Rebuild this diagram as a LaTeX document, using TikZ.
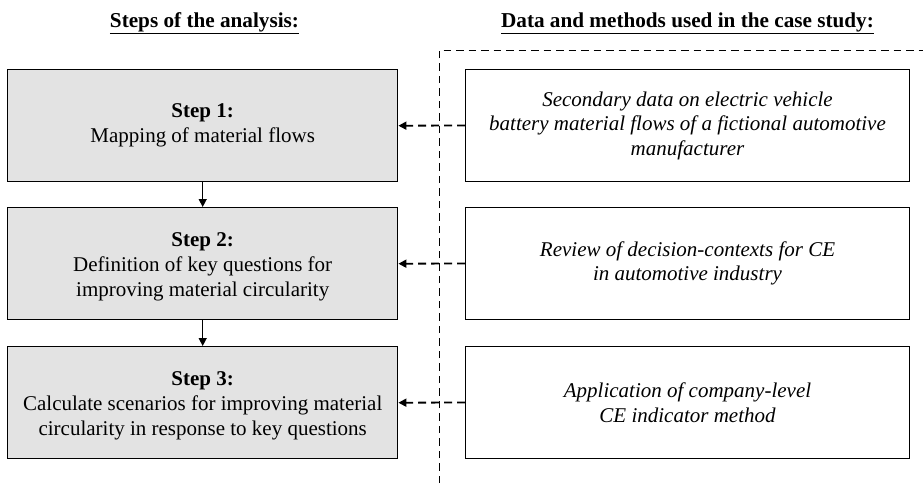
\documentclass[tikz,border=0pt]{standalone}
\usepackage{fontspec}
\setmainfont{Liberation Serif}
\usetikzlibrary{arrows.meta}
\begin{document}
\begin{tikzpicture}[x=1pt,y=-1pt,
  stepbox/.style={draw=black, line width=1.4pt, fill=black!11, minimum width=390pt, minimum height=112pt, align=center, font=\fontsize{21}{25}\selectfont, anchor=north west},
  databox/.style={draw=black, line width=1pt, fill=white, minimum width=444pt, minimum height=112pt, align=center, font=\fontsize{21}{24.5}\selectfont\itshape, anchor=north west},
  head/.style={font=\fontsize{21.2}{24}\selectfont\bfseries, anchor=base},
  dasharr/.style={line width=1.8pt, dash pattern=on 8pt off 5pt, -{Triangle[length=8pt,width=8pt]}},
  solarr/.style={line width=1.4pt, -{Triangle[length=8pt,width=8pt]}},
  frame/.style={line width=1pt, dash pattern=on 7.5pt off 5pt}
]
\useasboundingbox (0,0) rectangle (923,483);
\node[head] (h1) at (204.5,27) {\underline{Steps of the analysis:}};
\node[head] (h2) at (687.5,27) {\underline{Data and methods used in the case study:}};
\coordinate (fa) at (439,483);
\coordinate (fb) at (439,50);
\coordinate (fc) at (923,50);
\draw[frame] (fa) -- (fb) -- (fc);
\node[stepbox] (s1) at (7,69) {\textbf{Step 1:}\\Mapping of material flows};
\node[stepbox] (s2) at (7,207) {\rule{0pt}{19.5pt}\textbf{Step 2:}\\Definition of key questions for\\improving material circularity};
\node[stepbox] (s3) at (7,346) {\rule{0pt}{19.5pt}\textbf{Step 3:}\\Calculate scenarios for improving material\\circularity in response to key questions};
\node[databox] (d1) at (465,69) {Secondary data on electric vehicle\\battery material flows of a fictional automotive\\manufacturer};
\node[databox] (d2) at (465,207) {Review of decision-contexts for CE\\in automotive industry};
\node[databox] (d3) at (465,346) {Application of company-level\\CE indicator method};
\draw[dasharr] (d1.west) -- (s1.east);
\draw[dasharr] (d2.west) -- (s2.east);
\draw[dasharr] (d3.west) -- (s3.east);
\draw[solarr] (s1.south) -- (s2.north);
\draw[solarr] (s2.south) -- (s3.north);
\end{tikzpicture}
\end{document}
